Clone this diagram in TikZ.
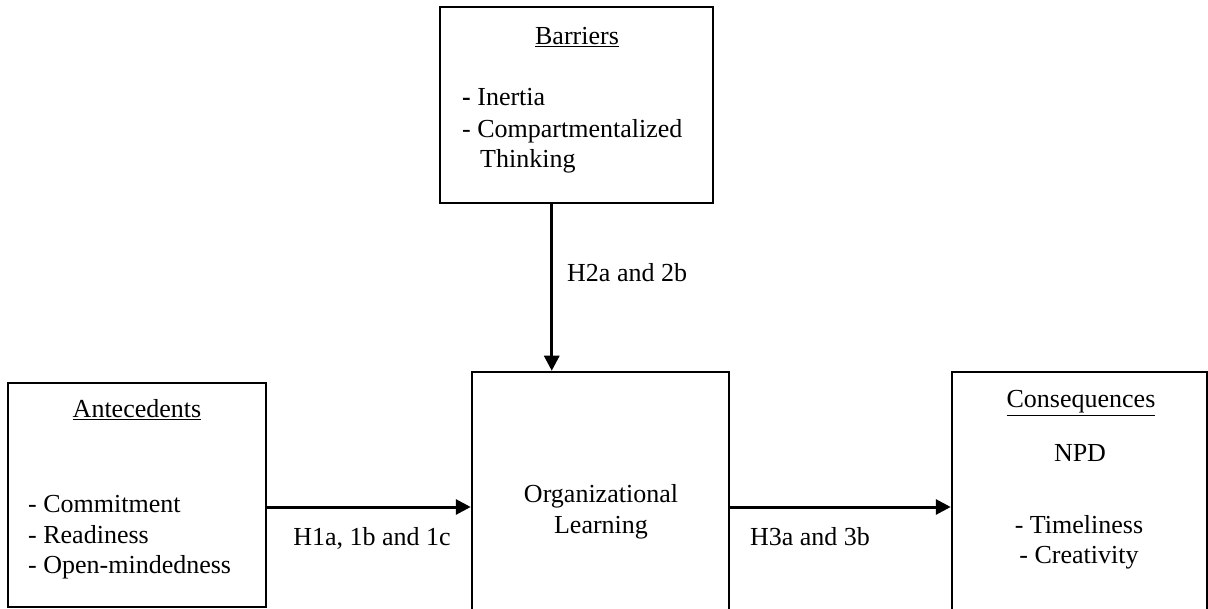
\documentclass[tikz,border=0pt]{standalone}
\usepackage{fontspec}
\setmainfont{Liberation Serif}
\usetikzlibrary{arrows.meta}
\begin{document}
\begin{tikzpicture}[x=1pt,y=-1pt,
  box/.style={draw,line width=2.5pt,inner sep=0pt},
  lbl/.style={font=\fontsize{26}{31}\selectfont,inner sep=0pt,anchor=base},
  lbll/.style={lbl,anchor=base west},
  arr/.style={line width=3pt,-{Triangle[length=15pt,width=15pt]}}]
\useasboundingbox (0,0) rectangle (1208,609);
\clip (0,0) rectangle (1208,609);
% boxes
\node[box,minimum width=273pt,minimum height=196pt] (bar) at (576.5,105) {};
\node[box,minimum width=258pt,minimum height=224pt] (ant) at (137,495) {};
\node[box,minimum width=257pt,minimum height=268pt] (org) at (600.5,506) {};
\node[box,minimum width=255pt,minimum height=268pt] (con) at (1079.5,506) {};
% texts
\node[lbl] (tbar) at (577,45) {\underline{Barriers}};
\node[lbll] (b1) at (462,106) {\textbf{-} Inertia};
\node[lbll] (b2) at (462,138) {- Compartmentalized};
\node[lbll] (b3) at (480,168) {Thinking};
\node[lbll] (h2) at (567,282) {H2a and 2b};
\node[lbl] (tant) at (137,418) {\underline{Antecedents}};
\node[lbll] (a1) at (28,512) {- Commitment};
\node[lbll] (a2) at (28,543) {- Readiness};
\node[lbll] (a3) at (28,573) {- Open-mindedness};
\node[lbl] (h1) at (372,545) {H1a, 1b and 1c};
\node[lbl] (o1) at (601,502) {Organizational};
\node[lbl] (o2) at (601,533) {Learning};
\node[lbl] (h3) at (810,545) {H3a and 3b};
\node[lbl] (tcon) at (1081,408) {\underline{Consequences}};
\node[lbl] (c1) at (1080,462) {NPD};
\node[lbl] (c2) at (1079,533) {- Timeliness};
\node[lbl] (c3) at (1079,563) {- Creativity};
% arrows
\draw[arr] ([xshift=113pt]bar.south west) -- ([xshift=81pt]org.north west);
\draw[arr] ([yshift=-12pt]ant.east) -- ([yshift=-12pt]ant.east -| org.west);
\draw[arr] ([yshift=-1pt]org.east) -- ([yshift=-1pt]org.east -| con.west);
\end{tikzpicture}
\end{document}
